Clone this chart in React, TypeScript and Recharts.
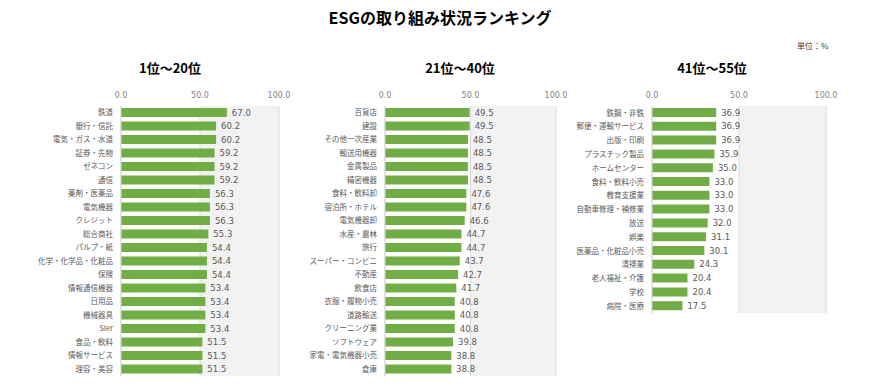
import React from 'react';
import { BarChart, Bar, XAxis, YAxis, CartesianGrid, LabelList } from 'recharts';

// 1位〜20位
const rank1Names = [
  '鉄道', '銀行・信託', '電気・ガス・水道', '証券・先物', 'ゼネコン', '通信', '薬剤・医薬品',
  '電気機器', 'クレジット', '総合商社', 'パルプ・紙', '化学・化学品・化粧品', '保険',
  '情報通信機器', '日用品', '機械器具', 'SIer', '食品・飲料', '情報サービス', '理容・美容',
];
const rank1Values = [
  67.0, 60.2, 60.2, 59.2, 59.2, 59.2, 56.3, 56.3, 56.3, 55.3,
  54.4, 54.4, 54.4, 53.4, 53.4, 53.4, 53.4, 51.5, 51.5, 51.5,
];

// 21位〜40位
const rank2Names = [
  '百貨店', '建設', 'その他一次産業', '輸送用機器', '金属製品', '精密機器', '食料・飲料卸',
  '宿泊所・ホテル', '電気機器卸', '水産・農林', '旅行', 'スーパー・コンビニ', '不動産',
  '飲食店', '衣服・履物小売', '道路輸送', 'クリーニング業', 'ソフトウェア', '家電・電気機器小売', '倉庫',
];
const rank2Values = [
  49.5, 49.5, 48.5, 48.5, 48.5, 48.5, 47.6, 47.6, 46.6, 44.7,
  44.7, 43.7, 42.7, 41.7, 40.8, 40.8, 40.8, 39.8, 38.8, 38.8,
];

// 41位〜55位
const rank3Names = [
  '鉄鋼・非鉄', '郵便・運輸サービス', '出版・印刷', 'プラスチック製品', 'ホームセンター',
  '食料・飲料小売', '教育支援業', '自動車修理・補修業', '放送', '娯楽', '医薬品・化粧品小売',
  '清掃業', '老人福祉・介護', '学校', '病院・医療',
];
const rank3Values = [
  36.9, 36.9, 36.9, 35.9, 35.0, 33.0, 33.0, 33.0, 32.0, 31.1, 30.1, 24.3, 20.4, 20.4, 17.5,
];

const axisTicks = [0, 50, 100];

const JP = '"Noto Sans CJK JP", "Noto Sans", sans-serif';
const NUM = '"DejaVu Sans", sans-serif';

const toRows = (names: string[], values: number[]) =>
  names.map((name, i) => ({ name, value: values[i] }));

interface PanelProps {
  names: string[];
  values: number[];
  left: number;
  width: number;
  height: number;
  labelWidth: number;
}

const RankPanel: React.FC<PanelProps> = ({ names, values, left, width, height, labelWidth }) => {
  const rows = toRows(names, values);
  return (
    <div style={{ position: 'absolute', left, top: 80 }}>
      <BarChart
        width={width}
        height={height}
        data={rows}
        layout="vertical"
        margin={{ top: 0, right: 20, bottom: 4, left: 0 }}
        barSize={9}
      >
        <CartesianGrid
          horizontal={false}
          stroke="#d9d9d9"
          verticalFill={['#ffffff', '#f2f2f2']}
          fillOpacity={1}
        />
        <XAxis
          type="number"
          orientation="top"
          domain={[0, 100]}
          ticks={axisTicks}
          height={26}
          axisLine={false}
          tickLine={false}
          tickFormatter={(v: number) => v.toFixed(1)}
          tick={{ fill: '#7f7f7f', fontSize: 8, fontFamily: NUM }}
        />
        <YAxis
          type="category"
          dataKey="name"
          width={labelWidth}
          interval={0}
          axisLine={{ stroke: '#d9d9d9' }}
          tickLine={false}
          tick={{ fill: '#595959', fontSize: 7.5, fontFamily: JP }}
        />
        <Bar dataKey="value" fill="#70ad47" isAnimationActive={false}>
          <LabelList
            dataKey="value"
            position="right"
            offset={5}
            formatter={(v: any) => Number(v).toFixed(1)}
            style={{ fill: '#595959', fontSize: 8.5, fontFamily: NUM }}
          />
        </Bar>
      </BarChart>
    </div>
  );
};

const titleStyle: React.CSSProperties = {
  position: 'absolute',
  fontFamily: JP,
  fontWeight: 700,
  color: '#000',
  whiteSpace: 'nowrap',
  transform: 'translate(-50%, -50%)',
};

export default function App() {
  return (
    <div style={{ position: 'absolute', left: 0, top: 0, width: 879, height: 387, background: '#fff', overflow: 'hidden' }}>
      <div style={{ ...titleStyle, left: 440, top: 17, fontSize: 16 }}>ESGの取り組み状況ランキング</div>
      <div style={{ ...titleStyle, left: 170, top: 67, fontSize: 13 }}>1位〜20位</div>
      <div style={{ ...titleStyle, left: 460, top: 67, fontSize: 13 }}>21位〜40位</div>
      <div style={{ ...titleStyle, left: 712, top: 67, fontSize: 13 }}>41位〜55位</div>
      <div style={{ position: 'absolute', left: 797, top: 40, fontSize: 8, fontFamily: JP, color: '#404040' }}>単位：%</div>
      <RankPanel names={rank1Names} values={rank1Values} left={0} width={299} height={300} labelWidth={121} />
      <RankPanel names={rank2Names} values={rank2Values} left={290} width={286} height={300} labelWidth={95} />
      <RankPanel names={rank3Names} values={rank3Values} left={572} width={274} height={237} labelWidth={80} />
    </div>
  );
}
